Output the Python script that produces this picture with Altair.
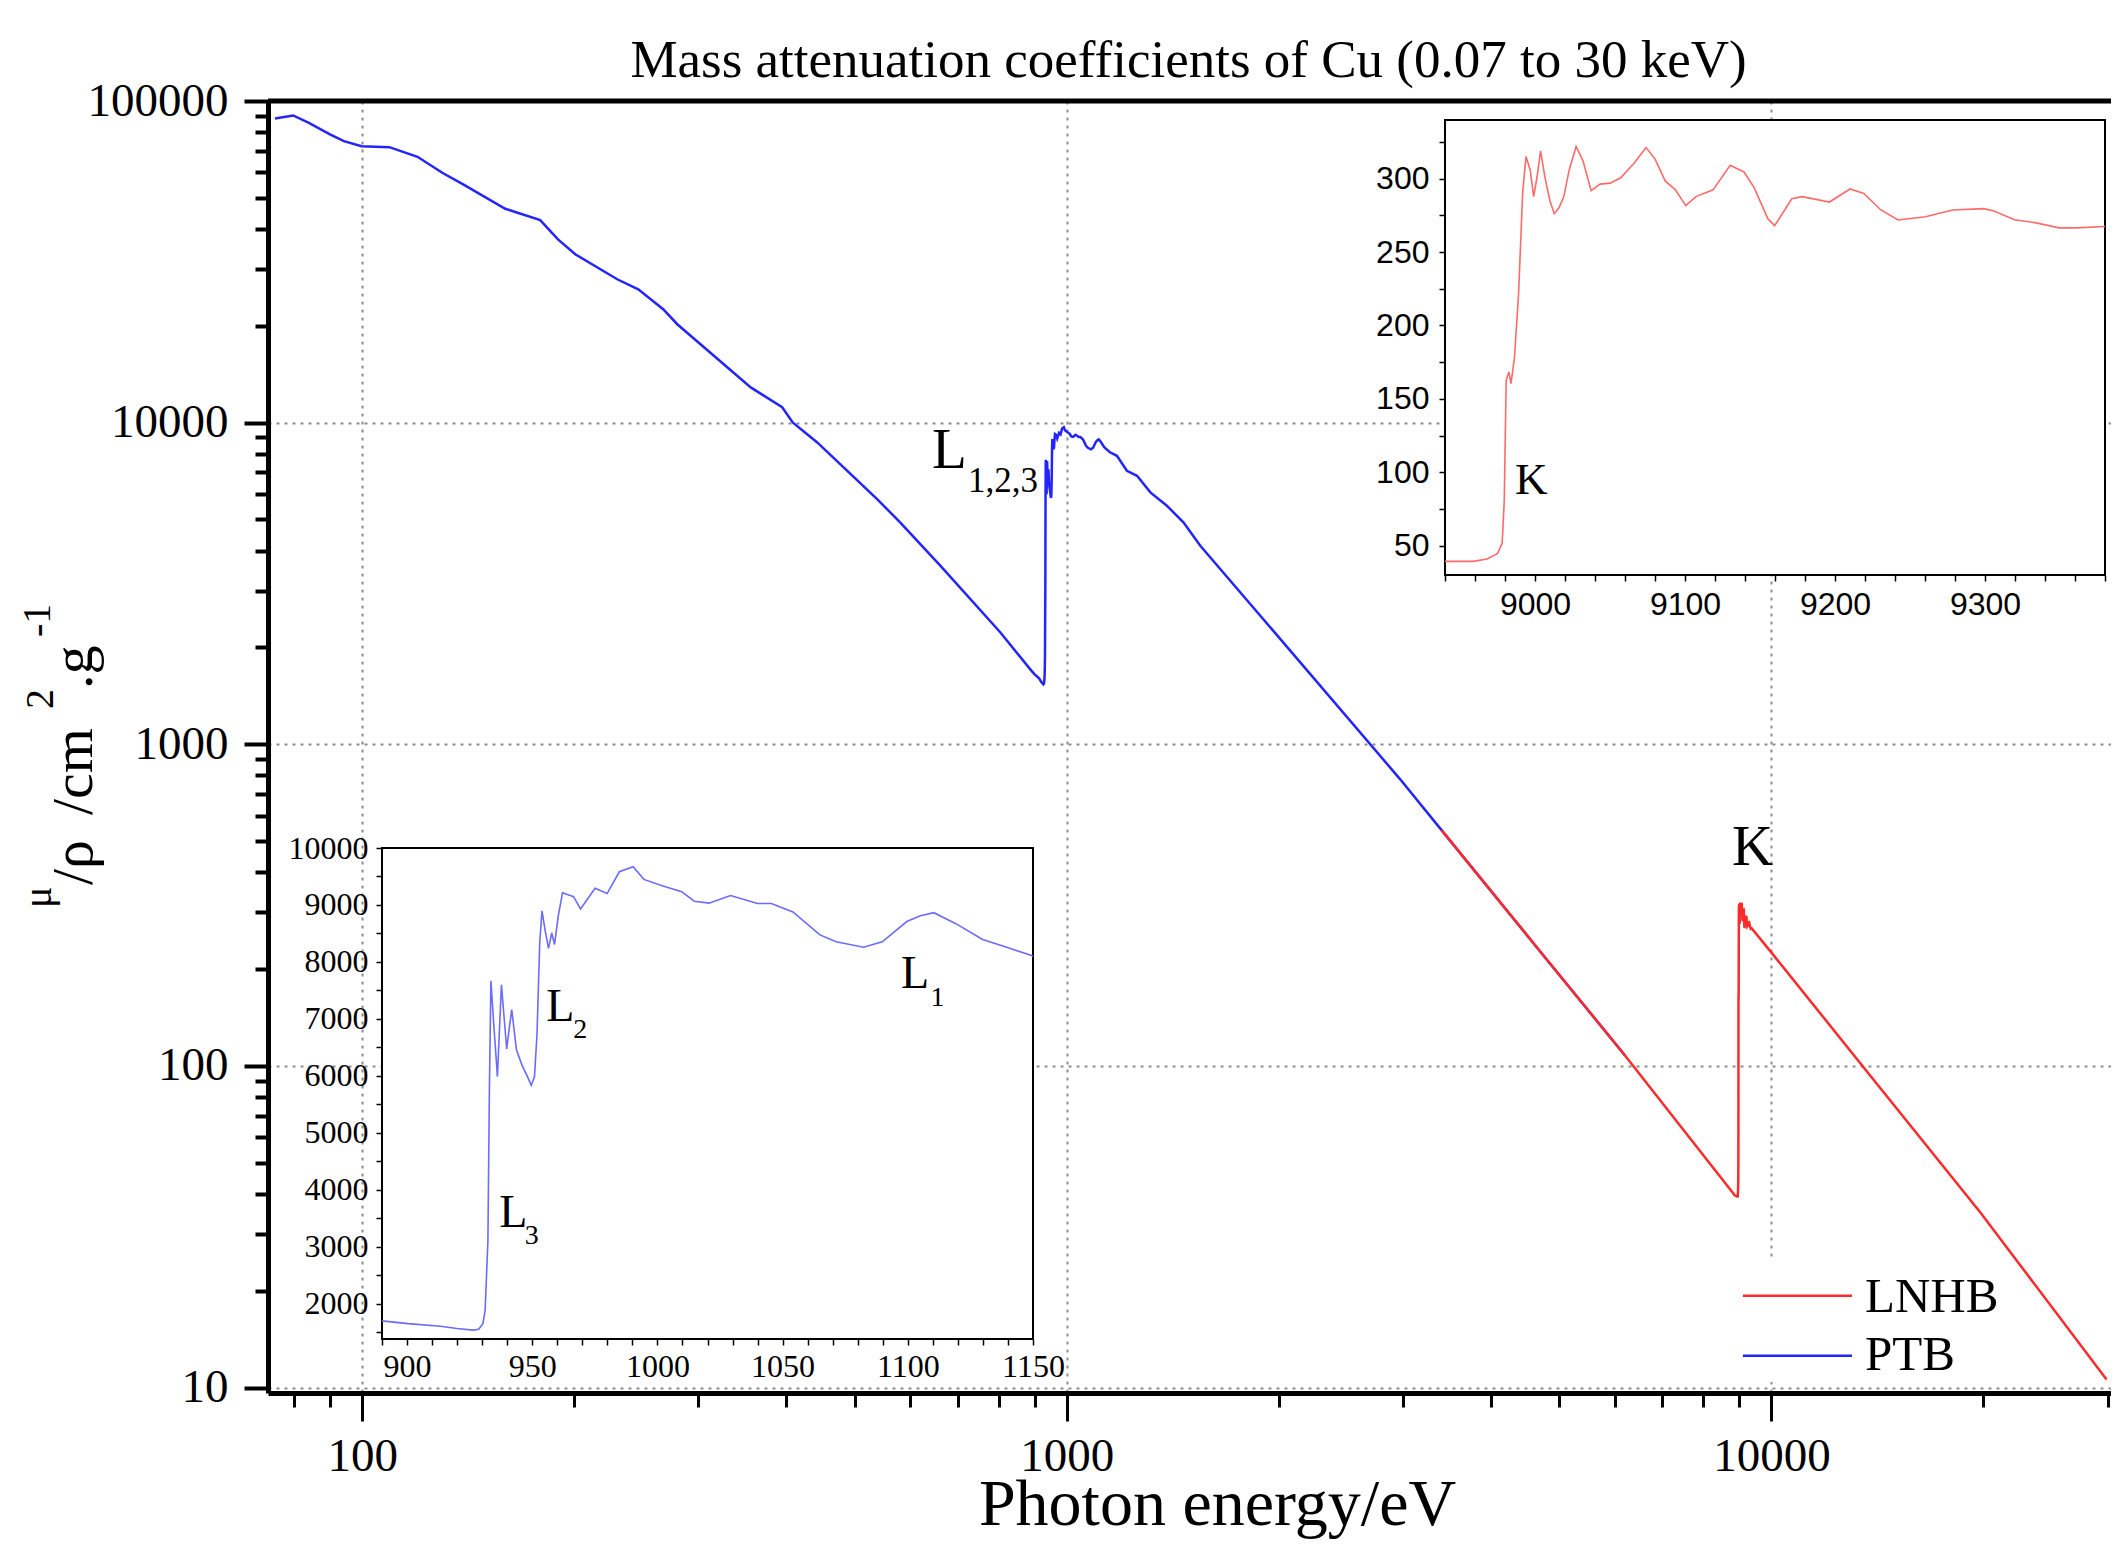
import altair as alt
import pandas as pd

# ---------------- data ----------------
# PTB, main curve below the L edges
ptb_low_E = [75.2, 79.8, 84.0, 90.0, 94.2, 99.8, 109.3, 119.8, 129.9, 139.1, 159.6, 178.9,
             189.6, 200.6, 230.1, 246.5, 267.4, 280.0, 356.0, 394.5, 408.3, 442.4, 538.0,
             580.0, 661.4, 804.4]
ptb_low_mu = [88250, 90150, 85540, 78700, 75000, 72370, 71850, 67080, 59840, 55050, 46240, 42640,
              37150, 33380, 27910, 25980, 22520, 20230, 12870, 11170, 10010, 8680, 5785,
              4898, 3592, 2231]
# PTB, L-edge region (also the lower-left inset)
l_edge_E = [890, 900.4, 913.4, 919.9, 926.4, 928.6, 930.3, 931.2, 931.8, 932.3, 932.9, 933.5,
            934.6, 936.1, 937.7, 939.8, 940.7, 941.8, 943.7, 945.9, 948.1, 949.6, 950.9, 951.9,
            953.0, 953.9, 955.2, 956.5, 957.8, 958.9, 960.4, 962.1, 964.3, 966.5, 969.3, 975.1,
            979.9, 984.8, 990.3, 994.6, 1002.2, 1009.7, 1014.7, 1020.6, 1029.2, 1040.0, 1045.5,
            1054.1, 1064.9, 1071.4, 1082.3, 1089.8, 1099.6, 1105.0, 1110.4, 1119.0, 1129.9,
            1140.7, 1150.0]
l_edge_mu = [1698, 1650, 1603, 1563, 1536, 1550, 1650, 1886, 2558, 3096, 5785, 7667,
             6928, 5987, 7600, 6471, 6793, 7163, 6457, 6188, 5987, 5832, 5987, 6726,
             8340, 8897, 8541, 8239, 8508, 8306, 8810, 9213, 9180, 9146, 8931, 9294,
             9200, 9583, 9671, 9449, 9334, 9234, 9066, 9032, 9166, 9025, 9025,
             8877, 8474, 8353, 8259, 8353, 8709, 8810, 8864, 8676, 8393,
             8239, 8104]
# PTB, above the L edges
ptb_high_E = [1178, 1217, 1258, 1314, 1387, 1464, 1547, 2000, 2969, 3403, 4710, 6194]
ptb_high_mu = [7886, 7085, 6836, 6070, 5516, 4898, 4144, 2150, 781, 541, 225.4, 108]

# LNHB, below the K edge
lnhb_low_E = [3403, 4710, 6194, 8872]
lnhb_low_mu = [541, 225.4, 108, 39.6]
# LNHB, K-edge region (also the upper-right inset)
k_edge_E = [8940, 8958.9, 8968.0, 8974.9, 8978.1, 8979.5, 8980.8, 8982.6, 8984.0, 8986.3,
            8989.0, 8991.8, 8994.0, 8996.8, 8999.1, 9001.4, 9003.7, 9006.8, 9010.0, 9012.8,
            9016.0, 9019.2, 9022.8, 9027.4, 9032.0, 9037.4, 9043.4, 9050.2, 9057.1, 9066.2,
            9074.0, 9079.9, 9086.8, 9093.6, 9100.5, 9107.3, 9118.7, 9130.1, 9139.3, 9146.1,
            9155.3, 9159.8, 9171.2, 9178.1, 9196.3, 9210.0, 9219.2, 9230.6, 9242.0, 9260.3,
            9278.5, 9299.1, 9306.0, 9319.6, 9333.3, 9349.3, 9360.7, 9380.0]
k_edge_mu = [39.3, 39.3, 40.9, 44.5, 51.5, 80.5, 162.8, 168.3, 160.4, 178.0,
             220.7, 290.9, 315.2, 306.0, 287.8, 301.5, 318.9, 300.0, 284.8, 276.2,
             280.2, 287.8, 306.0, 322.0, 312.2, 291.8, 296.3, 297.0, 300.6, 310.7,
             321.3, 313.7, 298.5, 292.4, 281.7, 287.8, 292.4, 309.1, 304.6, 293.9,
             272.6, 268.0, 286.3, 287.8, 284.1, 293.0, 289.9, 278.7, 271.9, 274.1,
             278.7, 279.6, 278.0, 272.0, 270.1, 266.5, 266.5, 267.4]
# LNHB, above the K edge
lnhb_high_E = [9997, 13372, 19824, 29900]
lnhb_high_mu = [225.4, 102, 34.9, 10.6]

series_names = ["LNHB", "PTB"]

# tick values
main_x_major = [100, 1000, 10000]
main_x_minor = [80, 90] + [k * 100 for k in range(2, 10)] + [k * 1000 for k in range(2, 10)] + [20000, 30000]
main_y_major = [10, 100, 1000, 10000, 100000]
main_y_minor = [k * 10 ** p for p in range(1, 5) for k in range(2, 10)]
ins1_x_ticks = list(range(8940, 9381, 20))
ins1_y_ticks = list(range(50, 326, 25))
ins2_x_ticks = list(range(890, 1151, 10))
ins2_y_ticks = list(range(1500, 10001, 500))

# ---------------- layout ----------------
W, H = 1843, 1292
SERIF = "Liberation Serif"
SANS = "Liberation Sans"
BLUE = "#2424ff"
RED = "#ff2a2a"
BLUE_IN = "#6b6bff"
RED_IN = "#ff6a6a"

ptb_df = pd.DataFrame({"E": ptb_low_E + l_edge_E + ptb_high_E,
                       "mu": ptb_low_mu + l_edge_mu + ptb_high_mu})
lnhb_df = pd.DataFrame({"E": lnhb_low_E + k_edge_E + lnhb_high_E,
                        "mu": lnhb_low_mu + k_edge_mu + lnhb_high_mu})
l_df = pd.DataFrame({"E": l_edge_E, "mu": l_edge_mu})
k_df = pd.DataFrame({"E": k_edge_E, "mu": k_edge_mu})
one = pd.DataFrame({"k": [0]})

main_x = alt.Scale(type="log", domain=[73.5, 30340], nice=False)
main_y = alt.Scale(type="log", domain=[9.62, 100000], nice=False)


def main_axis(orient, values, major, tick):
    common = dict(orient=orient, values=values, title=None, tickColor="black",
                  tickWidth=4 if orient == "left" else 3, tickSize=tick)
    if major:
        return alt.Axis(**common, format="d", domain=True, domainColor="black", domainWidth=5,
                        labelFont=SERIF, labelFontSize=47, labelColor="black",
                        labelPadding=16 if orient == "left" else 12,
                        labelFlush=False, labelOverlap=False,
                        grid=True, gridColor="#8c8c8c", gridDash=[3, 5], gridWidth=2)
    return alt.Axis(**common, labels=False, domain=False, grid=False)


def dtext(text, size, E, mu, font=SERIF, align="left"):
    return alt.Chart(one).mark_text(text=text, font=font, fontSize=size, align=align,
                                    baseline="alphabetic", color="black").encode(
        x=alt.XDatum(E, axis=None), y=alt.YDatum(mu, axis=None))


def ptext(text, size, px, py, angle=0, align="left"):
    return alt.Chart(one).mark_text(text=text, font=SERIF, fontSize=size, align=align,
                                    baseline="alphabetic", color="black", angle=angle).encode(
        x=alt.value(px), y=alt.value(py))


# ---------------- main chart ----------------
top_rule = alt.Chart(one).mark_rule(color="black", strokeWidth=5).encode(
    y=alt.YDatum(100000, axis=None))

legend_box = alt.Chart(one).mark_rect(fill="white").encode(
    x=alt.XDatum(8800, axis=None), x2=alt.X2Datum(21000),
    y=alt.YDatum(25, axis=None), y2=alt.Y2Datum(10.4))

ptb_line = alt.Chart(ptb_df).mark_line(color=BLUE, strokeWidth=2.5).encode(
    x=alt.X("E:Q", scale=main_x, axis=main_axis("bottom", main_x_major, True, 28)),
    y=alt.Y("mu:Q", scale=main_y, axis=main_axis("left", main_y_major, True, 24)))

minor_axes = alt.Chart(ptb_df).mark_line(opacity=0).encode(
    x=alt.X("E:Q", axis=main_axis("bottom", main_x_minor, False, 14)),
    y=alt.Y("mu:Q", axis=main_axis("left", main_y_minor, False, 13)))

lnhb_line = alt.Chart(lnhb_df).mark_line(color=RED, strokeWidth=2.5).encode(
    x=alt.X("E:Q", axis=None), y=alt.Y("mu:Q", axis=None))

leg_red = alt.Chart(one).mark_rule(color=RED, strokeWidth=2.5).encode(
    x=alt.XDatum(9112, axis=None), x2=alt.X2Datum(13015), y=alt.YDatum(19.3, axis=None))
leg_blue = alt.Chart(one).mark_rule(color=BLUE, strokeWidth=2.5).encode(
    x=alt.XDatum(9112, axis=None), x2=alt.X2Datum(13015), y=alt.YDatum(12.57, axis=None))

main_layers = [
    top_rule, legend_box, ptb_line, minor_axes, lnhb_line, leg_red, leg_blue,
    dtext(series_names[0], 49, 13580, 17.21),
    dtext(series_names[1], 49, 13580, 11.34),
    dtext("L", 57, 643.8, 7228),
    dtext("1,2,3", 35, 724.0, 6100),
    dtext("K", 57, 8790, 421.3),
    # chart title and axis titles
    ptext("Mass attenuation coefficients of Cu (0.07 to 30 keV)", 53, 920.5, -24.3, align="center"),
    ptext("Photon energy/eV", 66, 949.5, 1424, align="center"),
    ptext("\u03bc", 40, -217, 807, angle=270),
    ptext("/\u03c1", 58, -176.3, 784, angle=270),
    ptext("/cm", 58, -176.3, 714, angle=270),
    ptext("2", 40, -214.7, 608, angle=270),
    ptext(".g", 58, -176.3, 588, angle=270),
    ptext("-1", 40, -218, 536, angle=270),
]
main = alt.layer(*main_layers).resolve_axis(x="independent", y="independent")


# ---------------- insets ----------------
def inset_axis(orient, values, step, offset, font, pad):
    return alt.Axis(orient=orient, values=values, offset=offset, title=None, format="d",
                    labelExpr=f"datum.value % {step} == 0 ? datum.label : ''",
                    domain=False, grid=False, tickSize=6, tickWidth=1.5, tickColor="black",
                    labelFont=font, labelFontSize=32, labelColor="black", labelPadding=pad,
                    labelFlush=False, labelOverlap=False, zindex=1)


# upper-right inset: K edge (LNHB)
i1x = alt.Scale(domain=[8940, 9380], range=[1177, 1837], nice=False, zero=False)
i1y = alt.Scale(domain=[30, 340], range=[474, 19], nice=False, zero=False)
i1_frame = alt.Chart(one).mark_rect(fill="white", stroke="black", strokeWidth=2).encode(
    x=alt.XDatum(8940, axis=None), x2=alt.X2Datum(9380),
    y=alt.YDatum(30, axis=None), y2=alt.Y2Datum(340))
i1_line = alt.Chart(k_df).mark_line(color=RED_IN, strokeWidth=1.6).encode(
    x=alt.X("E:Q", scale=i1x, axis=inset_axis("bottom", ins1_x_ticks, 100, -(H - 474), SANS, 8)),
    y=alt.Y("mu:Q", scale=i1y, axis=inset_axis("left", ins1_y_ticks, 50, -1177, SANS, 10)))
inset1 = alt.layer(i1_frame, i1_line, dtext("K", 45, 8986.6, 85.3)).resolve_axis(
    x="independent", y="independent")

# lower-left inset: L edges (PTB)
i2x = alt.Scale(domain=[890, 1150], range=[114, 765], nice=False, zero=False)
i2y = alt.Scale(domain=[1380, 10000], range=[1238, 747], nice=False, zero=False)
i2_frame = alt.Chart(one).mark_rect(fill="white", stroke="black", strokeWidth=2).encode(
    x=alt.XDatum(890, axis=None), x2=alt.X2Datum(1150),
    y=alt.YDatum(1380, axis=None), y2=alt.Y2Datum(10000))
i2_line = alt.Chart(l_df).mark_line(color=BLUE_IN, strokeWidth=1.6).encode(
    x=alt.X("E:Q", scale=i2x, axis=inset_axis("bottom", ins2_x_ticks, 50, -(H - 1238), SERIF, 6)),
    y=alt.Y("mu:Q", scale=i2y, axis=inset_axis("left", ins2_y_ticks, 1000, -114, SERIF, 8)))
inset2 = alt.layer(
    i2_frame, i2_line,
    dtext("L", 46, 936.8, 3347), dtext("3", 28, 947.0, 3046),
    dtext("L", 46, 955.6, 6970), dtext("2", 28, 966.4, 6670),
    dtext("L", 46, 1097.3, 7539), dtext("1", 28, 1109.1, 7224),
).resolve_axis(x="independent", y="independent")

chart = alt.layer(main, inset1, inset2).resolve_scale(
    x="independent", y="independent"
).properties(
    width=W, height=H,
    padding={"left": 260, "top": 93, "right": 0, "bottom": 148},
    autosize=alt.AutoSizeParams(type="none"),
    background="white",
).configure_view(stroke=None)

chart.save("out.html", embed_options={"renderer": "svg", "actions": False})
